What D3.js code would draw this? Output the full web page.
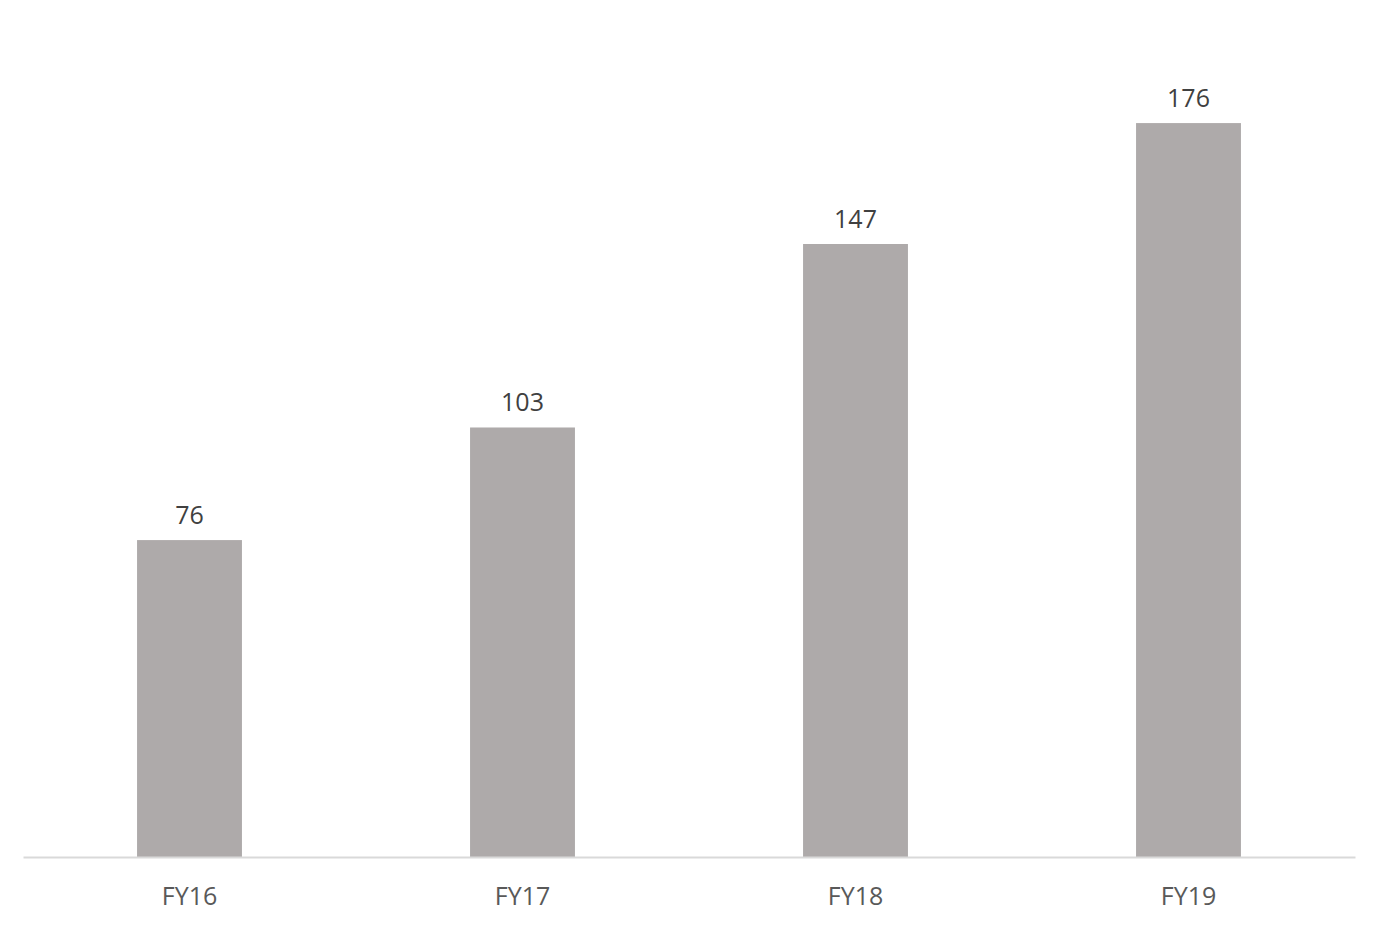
<!DOCTYPE html>
<html>
<head>
<meta charset="utf-8">
<script src="https://cdn.jsdelivr.net/npm/d3@7"></script>
<style>
  html, body { margin: 0; padding: 0; background: #ffffff; }
</style>
</head>
<body>
<svg id="mySVG" width="1378" height="926"></svg>
<script>
// ---chart data---
var Categories = ["FY16", "FY17", "FY18", "FY19"]
var Values = [76, 103, 147, 176]
var YDomain = [0, 200]

var MySVG = d3.select("#mySVG")
var FontFam = "'Open Sans', 'Noto Sans', sans-serif"

var X = d3.scaleBand()
  .domain(Categories)
  .range([23, 1355])
  .paddingInner(0.685)
  .paddingOuter(0.3425)

var Y = d3.scaleLinear()
  .domain(YDomain)
  .range([857, 23])

var BarG = MySVG.append("g").attr("id", "barG")

BarG.selectAll("rect")
  .data(Values)
  .enter()
  .append("rect")
  .attr("x", function(d, i) { return X(Categories[i]) })
  .attr("y", function(d) { return Y(d) })
  .attr("width", X.bandwidth())
  .attr("height", function(d) { return Y(0) - Y(d) })
  .attr("fill", "#aeaaaa")

//---value labels above bars---
BarG.selectAll("text")
  .data(Values)
  .enter()
  .append("text")
  .attr("x", function(d, i) { return X(Categories[i]) + X.bandwidth() / 2 })
  .attr("y", function(d) { return Y(d) - 16 })
  .attr("text-anchor", "middle")
  .attr("font-family", FontFam)
  .attr("font-size", "25px")
  .attr("fill", "#404040")
  .text(function(d) { return d })

//---category axis---
var AxisG = MySVG.append("g")
  .attr("id", "xAxisG")
  .attr("transform", "translate(0," + Y(0) + ")")
  .call(d3.axisBottom(X).tickSize(0).tickPadding(29))

AxisG.select(".domain")
  .attr("stroke", "#d9d9d9")
  .attr("stroke-width", 2)

AxisG.selectAll(".tick text")
  .attr("font-family", FontFam)
  .attr("font-size", "25px")
  .attr("fill", "#595959")
  .attr("dy", "0")
  .attr("dominant-baseline", "auto")
  .attr("y", 48)
</script>
</body>
</html>
